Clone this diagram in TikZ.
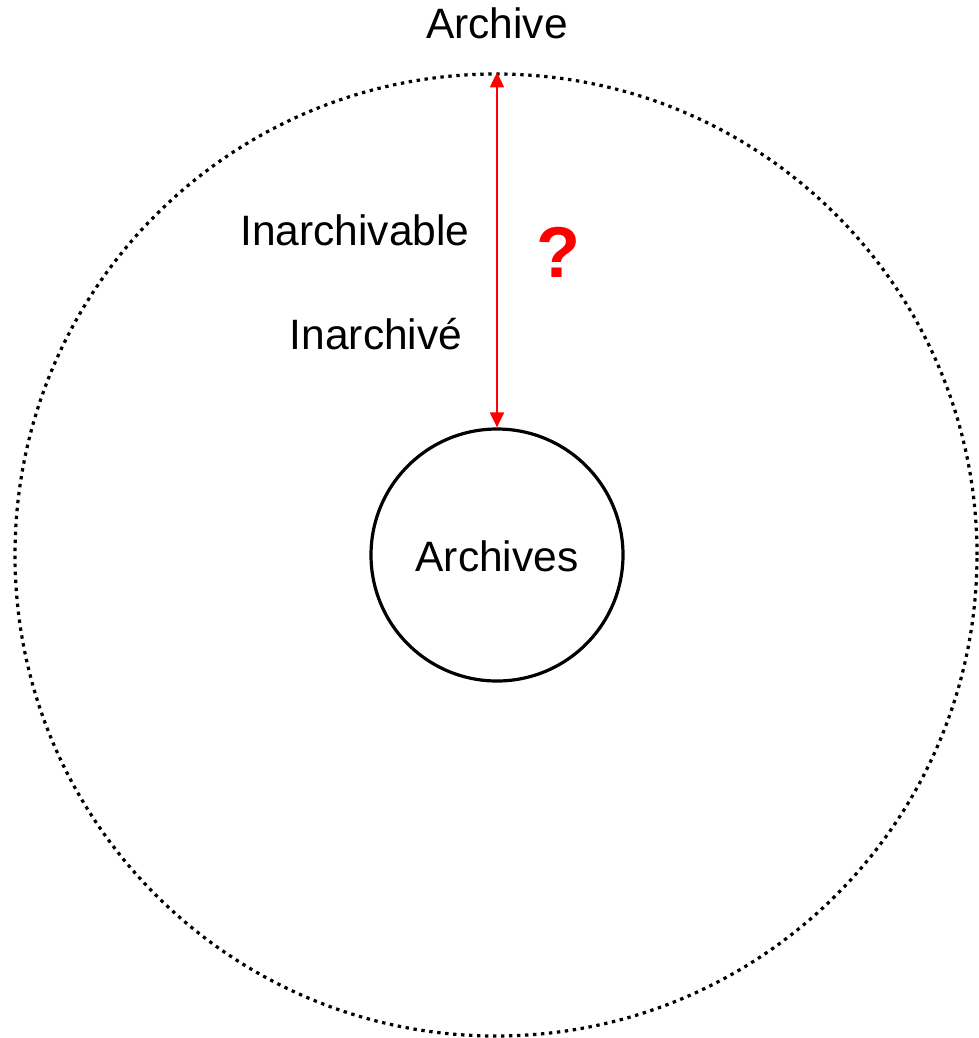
\documentclass[tikz,border=0pt]{standalone}
\usepackage{fontspec}
\setmainfont{Liberation Sans}
\usetikzlibrary{arrows.meta}
\tikzset{
  lbl/.style={inner sep=0pt, anchor=base, font=\fontsize{42.5}{50}\selectfont},
  outerc/.style={draw, line width=3.2pt, dash pattern=on 3.4pt off 4.6pt},
  innerc/.style={draw, line width=3.2pt},
  redarrow/.style={draw=red, line width=2pt, {Triangle[length=15pt,width=14pt]}-{Triangle[length=15pt,width=14pt]}}
}
\begin{document}
\begin{tikzpicture}[x=1pt,y=-1pt]
\useasboundingbox (0,0) rectangle (979,1038);
\node[circle, outerc, minimum size=962pt, inner sep=0pt] (outer) at (496,555) {};
\node[circle, innerc, minimum size=252pt, inner sep=0pt] (inner) at (497,555) {};
\node[lbl] (archives) at (497,571) {Archives};
\node[lbl] (archive) at (497,39) {Archive};
\node[lbl] (inarchivable) at (355,245) {Inarchivable};
\node[lbl] (inarchive) at (376,349) {Inarchivé};
\node[inner sep=0pt, anchor=base, text=red, font=\fontsize{72}{80}\bfseries\selectfont] (q) at (558,277) {?};
\coordinate (top) at (outer.north -| inner.north);
\draw[redarrow] (top) -- (inner.north);
\end{tikzpicture}
\end{document}
